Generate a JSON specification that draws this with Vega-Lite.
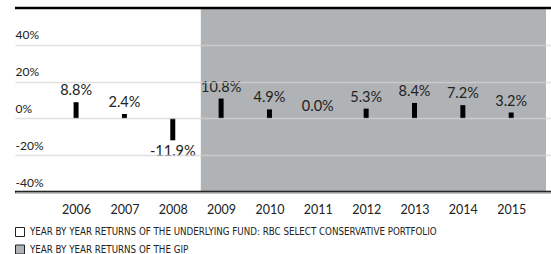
{
  "$schema": "https://vega.github.io/schema/vega-lite/v6.json",
  "width": 536,
  "height": 184,
  "autosize": {"type": "none"},
  "padding": {"left": 15, "top": 8, "right": 0, "bottom": 62},
  "background": "white",
  "config": {
    "view": {"stroke": null},
    "font": "Lato",
    "axis": {"labelFont": "Lato", "labelColor": "#222"},
    "legend": {"labelFont": "DejaVu Sans Condensed, Liberation Sans Narrow, Roboto"}
  },
  "datasets": {
    "returns": [
      {"year": 2006, "value": 8.8, "label": "8.8%"},
      {"year": 2007, "value": 2.4, "label": "2.4%"},
      {"year": 2008, "value": -11.9, "label": "-11.9%"},
      {"year": 2009, "value": 10.8, "label": "10.8%"},
      {"year": 2010, "value": 4.9, "label": "4.9%"},
      {"year": 2011, "value": 0.0, "label": "0.0%"},
      {"year": 2012, "value": 5.3, "label": "5.3%"},
      {"year": 2013, "value": 8.4, "label": "8.4%"},
      {"year": 2014, "value": 7.2, "label": "7.2%"},
      {"year": 2015, "value": 3.2, "label": "3.2%"}
    ],
    "periods": [
      {"period": "YEAR BY YEAR RETURNS OF THE UNDERLYING FUND: RBC SELECT CONSERVATIVE PORTFOLIO", "start": 2004.84, "end": 2008.58},
      {"period": "YEAR BY YEAR RETURNS OF THE GIP", "start": 2008.58, "end": 2015.72}
    ],
    "frame": [
      {"edge": "top", "level": 60},
      {"edge": "bottom", "level": -40}
    ]
  },
  "layer": [
    {
      "data": {"name": "periods"},
      "mark": {"type": "rect"},
      "encoding": {
        "x": {"field": "start", "type": "quantitative", "scale": {"domain": [2004.84, 2015.72], "nice": false, "zero": false}, "axis": {"values": [2006, 2007, 2008, 2009, 2010, 2011, 2012, 2013, 2014, 2015], "format": "d", "title": null, "domain": false, "ticks": false, "grid": false, "labelPadding": 11, "labelFontSize": 12.5, "labelFlush": false}},
        "x2": {"field": "end"},
        "fill": {"field": "period", "type": "nominal", "sort": null,
          "scale": {"domain": ["YEAR BY YEAR RETURNS OF THE UNDERLYING FUND: RBC SELECT CONSERVATIVE PORTFOLIO", "YEAR BY YEAR RETURNS OF THE GIP"], "range": ["#ffffff", "#b0b3b5"]},
          "legend": {"title": null, "orient": "none", "legendX": 0, "legendY": 219, "direction": "vertical", "symbolType": "square", "symbolSize": 81, "symbolStrokeColor": "#222", "symbolStrokeWidth": 1, "labelFontSize": 9.7, "labelColor": "#222", "labelOffset": 5, "rowPadding": 3.5, "labelLimit": 600}}
      }
    },
    {
      "data": {"name": "returns"},
      "mark": {"type": "bar", "size": 5, "color": "#000"},
      "encoding": {
        "x": {"field": "year", "type": "quantitative"},
        "y": {"field": "value", "type": "quantitative", "scale": {"domain": [-40, 60], "nice": false},
          "axis": {"values": [-40, -20, 0, 20, 40], "title": null, "domain": false, "ticks": false, "grid": true, "gridColor": "#d4d4d4", "gridOpacity": 0.7, "gridWidth": 1.5, "labelAlign": "left", "labelBaseline": "bottom", "labelPadding": 0, "labelOffset": -3, "labelFontSize": 12, "labelExpr": "datum.value + '%'", "zindex": 1}}
      }
    },
    {
      "data": {"name": "returns"},
      "transform": [{"filter": "datum.value >= 0"}],
      "mark": {"type": "text", "baseline": "bottom", "dy": -4, "fontSize": 14.5, "color": "#222"},
      "encoding": {
        "x": {"field": "year", "type": "quantitative"},
        "y": {"field": "value", "type": "quantitative"},
        "text": {"field": "label"}
      }
    },
    {
      "data": {"name": "returns"},
      "transform": [{"filter": "datum.value < 0"}],
      "mark": {"type": "text", "baseline": "top", "dy": 5, "fontSize": 14.5, "color": "#222"},
      "encoding": {
        "x": {"field": "year", "type": "quantitative"},
        "y": {"field": "value", "type": "quantitative"},
        "text": {"field": "label"}
      }
    },
    {
      "data": {"name": "frame"},
      "mark": {"type": "rule", "color": "#000", "strokeWidth": 2.5},
      "encoding": {"y": {"field": "level", "type": "quantitative"}}
    }
  ]
}
